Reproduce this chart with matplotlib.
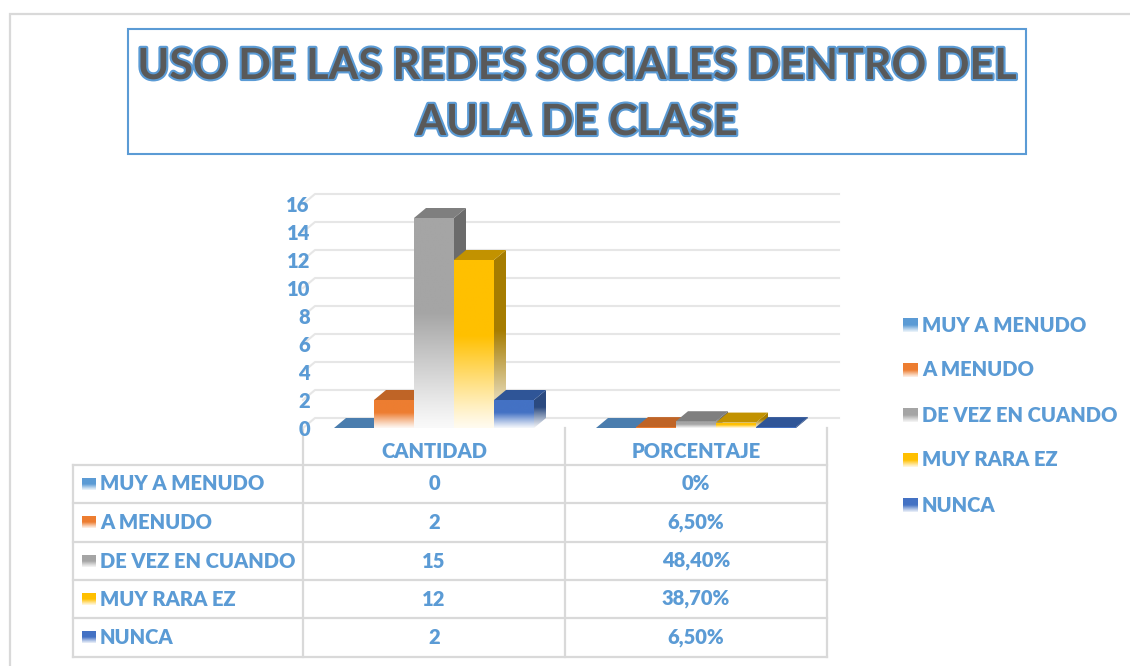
import numpy as np
import matplotlib
matplotlib.use("Agg")
import matplotlib.pyplot as plt
from matplotlib.patches import Polygon, Rectangle
from matplotlib.colors import to_rgb
import matplotlib.patheffects as pe

# ---- data -------------------------------------------------------------
TITLE = ["USO DE LAS REDES SOCIALES DENTRO DEL", "AULA DE CLASE"]
CATEGORIES = ["CANTIDAD", "PORCENTAJE"]
SERIES = ["MUY A MENUDO", "A MENUDO", "DE VEZ EN CUANDO", "MUY RARA EZ", "NUNCA"]
CANTIDAD = [0, 2, 15, 12, 2]
PORCENTAJE = [0.0, 0.065, 0.484, 0.387, 0.065]
CANTIDAD_TXT = ["0", "2", "15", "12", "2"]
PORCENTAJE_TXT = ["0%", "6,50%", "48,40%", "38,70%", "6,50%"]
YTICKS = list(range(0, 17, 2))

# ---- style ------------------------------------------------------------
FRONT = ["#5B9BD5", "#ED7D31", "#A5A5A5", "#FFC000", "#4472C4"]
TOP = ["#4A7DAE", "#BF6426", "#7F7F7F", "#C29200", "#2F5597"]
SIDE = ["#3E6D99", "#A5592A", "#6B6B6B", "#A67C00", "#2B4A80"]
BLUE = "#5B9BD5"
GRID = "#E6E6E6"
LINE = "#D9D9D9"
FONT = "Lato"
WEIGHT = 800
W, H = 1130, 666

def fade(color, n=100, stop=0.55, floor=0.06):
    c = np.array(to_rgb(color))
    t = np.linspace(0, 1, n)
    mix = np.clip(t/stop, 0, 1)
    mix = floor + (1-floor)*mix**1.1
    rgb = 1 - mix[:, None]*(1 - c[None, :])
    return rgb[:, None, :]

fig = plt.figure(figsize=(W/100, H/100), dpi=100)
fig.patch.set_facecolor("white")

# pixel overlay for frame, title, table, legend
ov = fig.add_axes([0, 0, 1, 1], zorder=0)
ov.set_xlim(0, W); ov.set_ylim(H, 0); ov.axis("off")
ov.plot([10, 10, W], [H, 14, 14], color=LINE, lw=1.6, solid_joinstyle="miter")

ov.add_patch(Rectangle((128, 29), 898, 125, fill=False, ec=BLUE, lw=1.5))
for line, y in zip(TITLE, (66, 122)):
    ov.text(577, y, line, ha="center", va="center", fontsize=31,
            fontweight="bold", family=FONT, color="#595959",
            path_effects=[pe.withStroke(linewidth=3, foreground=BLUE)])

# ---- chart ------------------------------------------------------------
X0, X1, Y0, Y16 = 303, 827, 428, 204
ax = fig.add_axes([X0/W, (H-Y0)/H, (X1-X0)/W, (Y0-Y16)/H], zorder=1)
ax.patch.set_alpha(0)
for s in ax.spines.values():
    s.set_visible(False)
ax.set_xlim(-0.5, 1.5); ax.set_ylim(0, 16)
ax.autoscale(False)
ux = (X1-X0)/2.0
uy = (Y0-Y16)/16.0
DX, DY = 12/ux, 10/uy
BW = 40/ux

for v in YTICKS:
    ax.plot([-0.5, -0.5+DX, 1.5+DX], [v, v+DY, v+DY], color=GRID, lw=1.5,
            clip_on=False, zorder=1)

ax.set_xticks([])
ax.set_yticks(YTICKS)
ax.set_yticklabels([str(v) for v in YTICKS], fontsize=14.5, fontweight=WEIGHT,
                   family=FONT, color=BLUE)
ax.tick_params(axis="y", length=0, pad=-5)

pos = np.arange(len(CATEGORIES))
for j, name in enumerate(SERIES):
    vals = [CANTIDAD[j], PORCENTAJE[j]]
    bars = ax.bar(pos + (j-2)*BW, vals, width=BW, color="none", lw=0,
                  zorder=10+3*j)
    for r in bars:
        x0, h = r.get_x(), r.get_height()
        z = 10 + 3*j
        side = Polygon([(x0+BW, 0), (x0+BW, h), (x0+BW+DX, h+DY),
                        (x0+BW+DX, DY)], closed=True, fc="none", lw=0,
                       zorder=z)
        ax.add_patch(side)
        if h > 0.3:
            im = ax.imshow(fade(SIDE[j]), extent=(x0+BW, x0+BW+DX, 0, h+DY),
                           origin="lower", aspect="auto", zorder=z,
                           interpolation="bilinear")
            im.set_clip_path(side)
            im2 = ax.imshow(fade(FRONT[j]), extent=(x0, x0+BW, 0, h),
                            origin="lower", aspect="auto", zorder=z+1,
                            interpolation="bilinear")
            im2.set_clip_path(r)
        else:
            side.set_facecolor(SIDE[j])
            if h > 0:
                ax.add_patch(Rectangle((x0, 0), BW, h, fc=FRONT[j], lw=0,
                                       zorder=z+1))
        ax.add_patch(Polygon([(x0, h), (x0+BW, h), (x0+BW+DX, h+DY),
                              (x0+DX, h+DY)], closed=True, fc=TOP[j], lw=0,
                             zorder=z+2))
ax.set_xlim(-0.5, 1.5); ax.set_ylim(0, 16)

# ---- data table -------------------------------------------------------
TL, TC = 73, [303, 565, 827]
ROWS = [465, 503, 542, 580, 618, 657]
for x in TC:
    ov.plot([x, x], [Y0, ROWS[-1]], color=LINE, lw=1.6)
ov.plot([TL, TL], [ROWS[0], ROWS[-1]], color=LINE, lw=1.6)
for y in ROWS:
    ov.plot([TL, TC[-1]], [y, y], color=LINE, lw=1.6)

tkw = dict(fontsize=14.5, fontweight=WEIGHT, family=FONT, color=BLUE,
           va="center")
for c, name in enumerate(CATEGORIES):
    ov.text((TC[c]+TC[c+1])/2, 451, name, ha="center", **tkw)
for i, name in enumerate(SERIES):
    yc = (ROWS[i]+ROWS[i+1])/2
    ov.imshow(fade(FRONT[i], stop=0.5, floor=0.1), extent=(82, 96, yc+6, yc-6),
              origin="lower", aspect="auto", interpolation="bilinear")
    ov.text(100, yc, name, ha="left", **tkw)
    ov.text((TC[0]+TC[1])/2, yc, CANTIDAD_TXT[i], ha="center", **tkw)
    ov.text((TC[1]+TC[2])/2, yc, PORCENTAJE_TXT[i], ha="center", **tkw)

# ---- legend -----------------------------------------------------------
for i, name in enumerate(SERIES):
    yc = 325 + 45*i
    ov.imshow(fade(FRONT[i], stop=0.5, floor=0.1), extent=(903, 918, yc+7, yc-7),
              origin="lower", aspect="auto", interpolation="bilinear")
    ov.text(922, yc, name, ha="left", **tkw)
ov.set_xlim(0, W); ov.set_ylim(H, 0)

fig.savefig("out.png", dpi=100)
